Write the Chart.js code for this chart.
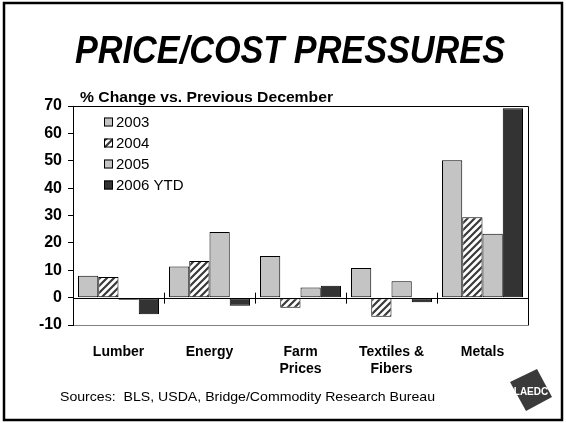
<!DOCTYPE html>
<html><head><meta charset="utf-8">
<script src="https://cdn.jsdelivr.net/npm/chart.js@4"></script>
<style>html,body{margin:0;padding:0;background:#fff}#wrap{width:566px;height:423px;position:relative}</style>
</head><body><div id="wrap"><canvas id="c" width="566" height="423"></canvas></div>
<script>
// ---- data ----
const categories = [['Lumber'], ['Energy'], ['Farm', 'Prices'], ['Textiles &', 'Fibers'], ['Metals']];
const seriesNames = ['2003', '2004', '2005', '2006 YTD'];
const values2003 = [8.0, 11.4, 15.2, 10.8, 50.2];
const values2004 = [7.5, 13.4, -3.7, -7.0, 29.4];
const values2005 = [-0.8, 24.0, 3.7, 6.0, 23.3];
const values2006 = [-6.1, -3.0, 4.3, -1.7, 69.2];
const yMin = -10, yMax = 70, yStep = 10;
const chartTitle = 'PRICE/COST PRESSURES';
const axisTitle = '% Change vs. Previous December';
const sourceNote = 'Sources:  BLS, USDA, Bridge/Commodity Research Bureau';
const logoText = 'LAEDC';

const FONT = "'Liberation Sans', Arial, sans-serif";

// hatch pattern for 2004
function makeHatch() {
  const s = 7;
  const cv = document.createElement('canvas');
  cv.width = s; cv.height = s;
  const c = cv.getContext('2d');
  c.fillStyle = '#fff'; c.fillRect(0, 0, s, s);
  c.strokeStyle = '#3a3a3a'; c.lineWidth = 2.2;
  c.beginPath();
  c.moveTo(-1, s + 1); c.lineTo(s + 1, -1);
  c.moveTo(-1, 1); c.lineTo(1, -1);
  c.moveTo(s - 1, s + 1); c.lineTo(s + 1, s - 1);
  c.stroke();
  return document.getElementById('c').getContext('2d').createPattern(cv, 'repeat');
}
const hatch = makeHatch();
const fills = ['#c4c4c4', hatch, '#c4c4c4', '#333333'];

function fitText(ctx, text, x, y, width) {
  const w = ctx.measureText(text).width;
  ctx.save();
  ctx.translate(x, y);
  ctx.scale(width / w, 1);
  ctx.fillText(text, 0, 0);
  ctx.restore();
}

const decor = {
  id: 'decor',
  beforeDraw(chart) {
    const ctx = chart.ctx;
    ctx.save();
    ctx.fillStyle = '#fff';
    ctx.fillRect(0, 0, chart.width, chart.height);
    ctx.restore();
  },
  afterDatasetsDraw(chart) {
    const ctx = chart.ctx, a = chart.chartArea;
    const x = chart.scales.x, y = chart.scales.y;
    ctx.save();
    const y0 = y.getPixelForValue(0);
    ctx.strokeStyle = '#000'; ctx.lineWidth = 1;
    ctx.beginPath();
    ctx.moveTo(a.left, Math.round(y0) + 0.5); ctx.lineTo(a.right, Math.round(y0) + 0.5);
    for (let i = 1; i < categories.length; i++) {
      const px = Math.round((x.getPixelForValue(i - 1) + x.getPixelForValue(i)) / 2) + 0.5;
      ctx.moveTo(px, y0 - 5); ctx.lineTo(px, y0 + 6);
    }
    ctx.moveTo(a.left, Math.round(a.top) + 0.5); ctx.lineTo(Math.round(a.right) + 0.5, Math.round(a.top) + 0.5);
    ctx.lineTo(Math.round(a.right) + 0.5, a.bottom);
    ctx.stroke();
    ctx.restore();
  },
  afterDraw(chart) {
    const ctx = chart.ctx;
    ctx.save();
    // outer frame
    ctx.strokeStyle = '#000'; ctx.lineWidth = 2.5;
    ctx.strokeRect(4, 3, 558, 417);
    // title
    ctx.fillStyle = '#000';
    ctx.font = 'italic bold 36px ' + FONT;
    ctx.textAlign = 'center'; ctx.textBaseline = 'alphabetic';
    const tw = ctx.measureText(chartTitle).width;
    ctx.save();
    ctx.translate(290, 63);
    ctx.scale(430 / tw, 1.1);
    ctx.fillText(chartTitle, 0, 0);
    ctx.restore();
    // axis title
    ctx.font = 'bold 14px ' + FONT;
    ctx.textAlign = 'left'; ctx.textBaseline = 'middle';
    fitText(ctx, axisTitle, 80, 98, 253);
    // legend
    ctx.font = '15px ' + FONT;
    const rows = [122, 143, 164, 185];
    seriesNames.forEach((n, i) => {
      ctx.fillStyle = fills[i];
      ctx.fillRect(104, rows[i] - 4.5, 9, 9);
      ctx.strokeStyle = '#000'; ctx.lineWidth = 1;
      ctx.strokeRect(104.5, rows[i] - 4, 8, 8);
      ctx.fillStyle = '#000';
      ctx.fillText(n, 116, rows[i] + 0.5);
    });
    // sources
    ctx.font = '13.5px ' + FONT;
    fitText(ctx, sourceNote, 60, 397, 375);
    // logo
    ctx.fillStyle = '#3a3a3a';
    ctx.beginPath();
    ctx.moveTo(510, 382); ctx.lineTo(537, 369); ctx.lineTo(552, 397); ctx.lineTo(526, 411);
    ctx.closePath(); ctx.fill();
    ctx.fillStyle = '#fff';
    ctx.font = 'bold 10px ' + FONT;
    ctx.textAlign = 'center';
    ctx.fillText(logoText, 531, 392);
    ctx.restore();
  }
};

const allValues = [values2003, values2004, values2005, values2006];
new Chart(document.getElementById('c'), {
  type: 'bar',
  data: {
    labels: categories,
    datasets: seriesNames.map((n, i) => ({
      label: n,
      data: allValues[i],
      backgroundColor: fills[i],
      borderColor: '#000',
      borderWidth: 1,
      borderSkipped: false,
      categoryPercentage: 0.89,
      barPercentage: 1.0
    }))
  },
  options: {
    responsive: false,
    animation: false,
    devicePixelRatio: 1,
    layout: { padding: { top: 106, right: 38, bottom: 38, left: 0 } },
    plugins: { legend: { display: false }, title: { display: false }, tooltip: { enabled: false } },
    scales: {
      x: {
        grid: { display: false, drawTicks: false },
        border: { display: true, color: '#808080', width: 1 },
        ticks: { color: '#000', font: { family: FONT, size: 14, weight: 'bold' }, padding: 19, maxRotation: 0, autoSkip: false },
        afterFit(s) { s.height = 60; }
      },
      y: {
        min: yMin, max: yMax,
        grid: {
          drawOnChartArea: false, drawTicks: true, tickLength: 5, tickColor: '#000'
        },
        border: { display: true, color: '#000', width: 1 },
        ticks: { stepSize: yStep, color: '#000', padding: 6, font: { family: FONT, size: 16, weight: 'bold' } },
        afterFit(s) { s.width = 73; }
      }
    }
  },
  plugins: [decor]
});
</script>
</body></html>
